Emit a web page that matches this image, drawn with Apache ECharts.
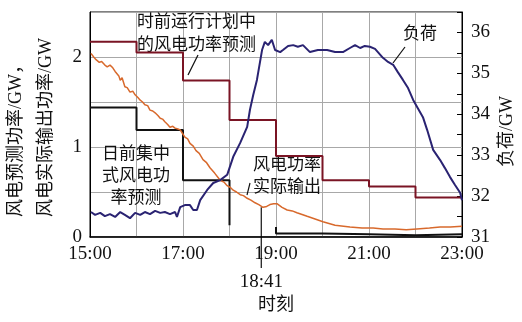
<!DOCTYPE html>
<html>
<head>
<meta charset="utf-8">
<script src="https://cdn.jsdelivr.net/npm/echarts@6/dist/echarts.min.js"></script>
<style>
  html, body { margin: 0; padding: 0; background: #fff; }
  #main { width: 522px; height: 322px; }
</style>
</head>
<body>
<div id="main"></div>
<script>
// 时前运行计划中的风电功率预测 (每小时一档)
const planHours = [15, 16, 17, 18, 19, 20, 21, 22, 23];
const planForecast = [2.17, 2.05, 1.74, 1.30, 0.90, 0.63, 0.56, 0.44, 0.44];

// 日前集中式风电功率预测 (折线点, null 为断开)
const dayAheadTimes = [15, 16, 16, 17, 17, 18, 18, 18.5, 19, 19, 20, 20, 21, 21, 22, 22, 23];
const dayAheadValues = [1.44, 1.44, 1.19, 1.19, 0.63, 0.63, 0.13, null, 0.11, 0.04, 0.04, 0.03, 0.03, 0.02, 0.02, 0.03, 0.03];

// 风电功率实际输出
const actualTimes = [15.02, 15.08, 15.13, 15.2, 15.25, 15.32, 15.37, 15.43, 15.49, 15.54, 15.58, 15.62, 15.65, 15.69,
  15.75, 15.8, 15.86, 15.92, 15.97, 16.03, 16.08, 16.13, 16.18, 16.24, 16.29, 16.35, 16.4, 16.46, 16.51, 16.56,
  16.61, 16.67, 16.72, 16.78, 16.83, 16.89, 16.94, 16.99, 17.04, 17.1, 17.15, 17.22, 17.28, 17.35, 17.43, 17.5,
  17.58, 17.68, 17.8, 17.88, 17.95, 18.02, 18.08, 18.15, 18.23, 18.3, 18.38, 18.46, 18.55, 18.63,
  18.72, 18.8, 18.87, 18.95, 19.02, 19.13, 19.24, 19.35, 19.45, 19.56, 19.67, 19.84, 20.01, 20.27, 20.59, 20.85,
  21.09, 21.3, 21.56, 21.8, 22.03, 22.3, 22.53, 22.75, 23.0];
const actualValues = [2.04, 2.0, 1.97, 1.94, 1.95, 1.91, 1.89, 1.91, 1.88, 1.84, 1.82, 1.79, 1.74, 1.77,
  1.67, 1.66, 1.61, 1.62, 1.58, 1.55, 1.52, 1.5, 1.47, 1.46, 1.41, 1.4, 1.38, 1.35, 1.32, 1.31,
  1.28, 1.25, 1.22, 1.23, 1.21, 1.2, 1.19, 1.15, 1.11, 1.09, 1.04, 1.01, 0.96, 0.93, 0.86, 0.83,
  0.77, 0.71, 0.63, 0.61, 0.57, 0.55, 0.52, 0.5, 0.47, 0.46, 0.43, 0.41, 0.38, 0.36,
  0.33, 0.34, 0.36, 0.37, 0.37, 0.33, 0.30, 0.29, 0.27, 0.25, 0.23, 0.20, 0.17, 0.13, 0.11, 0.1,
  0.10, 0.09, 0.09, 0.08, 0.09, 0.1, 0.11, 0.11, 0.12];

// 负荷 (右轴)
const loadTimes = [15.02, 15.11, 15.22, 15.32, 15.43, 15.54, 15.65, 15.75, 15.86, 15.97, 16.08, 16.18, 16.29, 16.4,
  16.51, 16.61, 16.72, 16.83, 16.87, 16.94, 17.04, 17.15, 17.22, 17.3, 17.37, 17.52, 17.65, 17.8, 17.95, 18.08,
  18.23, 18.38, 18.44, 18.51, 18.59, 18.7, 18.76, 18.83, 18.91, 18.98, 19.09, 19.15, 19.26, 19.37, 19.47, 19.58,
  19.73, 19.9, 20.1, 20.27, 20.44, 20.59, 20.7, 20.81, 20.91, 21.02, 21.13, 21.17, 21.3, 21.41, 21.52, 21.62,
  21.73, 21.84, 21.95, 22.05, 22.16, 22.25, 22.38, 22.53, 22.63, 22.74, 22.85, 22.96, 23.0];
const loadValues = [31.61, 31.54, 31.59, 31.51, 31.56, 31.49, 31.61, 31.54, 31.46, 31.59, 31.54, 31.61, 31.56, 31.64,
  31.59, 31.61, 31.56, 31.61, 31.49, 31.73, 31.78, 31.78, 31.66, 31.66, 31.9, 32.15, 32.32, 32.39, 32.52, 32.96,
  33.3, 33.69, 34.11, 34.47, 34.84, 35.57, 35.77, 35.69, 35.82, 35.57, 35.52, 35.57, 35.67, 35.69, 35.65, 35.69,
  35.52, 35.57, 35.57, 35.52, 35.52, 35.62, 35.69, 35.62, 35.67, 35.65, 35.6, 35.57, 35.38, 35.28, 35.21, 35.03,
  34.84, 34.64, 34.35, 34.15, 33.93, 33.62, 33.13, 32.88, 32.69, 32.47, 32.27, 32.08, 31.9];

const markTime = 18 + 41 / 60;
const markValue = 0.33;

function zip(xs, ys) {
  return xs.map((x, i) => [x, ys[i]]);
}

const FONT = 'Liberation Serif, Noto Sans CJK SC';
const chart = echarts.init(document.getElementById('main'));

const option = {
  animation: false,
  grid: {
    left: 90, right: 60, top: 12, bottom: 85,
    show: true, borderColor: '#000', borderWidth: 1
  },
  xAxis: {
    type: 'value',
    min: 15, max: 23, interval: 1,
    axisLine: { lineStyle: { color: '#000', width: 1.5 } },
    axisTick: { show: false },
    axisLabel: {
      color: '#111', fontFamily: FONT, fontSize: 19, margin: 8,
      formatter: v => (v % 2 === 1 ? v + ':00' : '')
    },
    splitLine: { show: true, lineStyle: { color: '#a8a8a8', width: 1 } }
  },
  yAxis: [
    {
      type: 'value',
      min: 0, max: 2.5, interval: 0.5,
      axisLine: { show: true, lineStyle: { color: '#000' } },
      axisTick: { show: false },
      axisLabel: {
        color: '#111', fontFamily: FONT, fontSize: 19, margin: 8,
        formatter: v => (Number.isInteger(v) ? String(v) : '')
      },
      splitLine: { show: true, lineStyle: { color: '#a8a8a8', width: 1 } }
    },
    {
      type: 'value',
      position: 'right',
      min: 31, max: 36.5, interval: 0.5,
      axisLine: { show: true, lineStyle: { color: '#000' } },
      axisTick: { show: true, inside: true, length: 5, lineStyle: { color: '#000' } },
      axisLabel: {
        color: '#111', fontFamily: FONT, fontSize: 19, margin: 9,
        formatter: v => (Number.isInteger(v) ? String(v) : '')
      },
      splitLine: { show: false }
    }
  ],
  series: [
    {
      name: '日前集中式风电功率预测',
      type: 'line',
      data: zip(dayAheadTimes, dayAheadValues),
      showSymbol: false,
      connectNulls: false,
      lineStyle: { color: '#111', width: 2 }
    },
    {
      name: '时前运行计划中的风电功率预测',
      type: 'line',
      step: 'end',
      data: zip(planHours, planForecast),
      showSymbol: false,
      lineStyle: { color: '#7a1424', width: 2 }
    },
    {
      name: '风电功率实际输出',
      type: 'line',
      data: zip(actualTimes, actualValues),
      showSymbol: false,
      lineStyle: { color: '#d8692c', width: 1.5 }
    },
    {
      name: '负荷',
      type: 'line',
      yAxisIndex: 1,
      data: zip(loadTimes, loadValues),
      showSymbol: false,
      lineStyle: { color: '#2a2372', width: 2 }
    }
  ]
};
chart.setOption(option);

// 标注 (18:41 竖线按坐标换算位置)
const mx = chart.convertToPixel({ xAxisIndex: 0 }, markTime);
const my = chart.convertToPixel({ yAxisIndex: 0 }, markValue);
const txt = (text, x, y, extra, rot) => ({
  type: 'text', x: x, y: y, rotation: rot || 0, silent: true,
  style: Object.assign({ text: text, fill: '#111', font: '17px ' + FONT, lineHeight: 23 }, extra || {})
});
const seg = (x1, y1, x2, y2) => ({
  type: 'line', silent: true,
  shape: { x1: x1, y1: y1, x2: x2, y2: y2 },
  style: { stroke: '#111', lineWidth: 1.2 }
});

chart.setOption({
  graphic: [
    txt('时前运行计划中\n的风电功率预测', 137, 11),
    seg(198, 55, 188, 75),
    txt('负荷', 403, 23),
    seg(405, 47, 393, 63),
    txt('日前集中\n式风电功\n率预测', 136, 144, { align: 'center', lineHeight: 22 }),
    txt('风电功率\n实际输出', 253, 155, { lineHeight: 22 }),
    seg(250, 183, 247, 195),
    seg(mx, my, mx, 268),
    txt('18:41', mx, 282, { align: 'center', verticalAlign: 'middle', font: '19px ' + FONT }),
    txt('时刻', 276, 305, { align: 'center', verticalAlign: 'middle', font: '18px ' + FONT }),
    txt('风电预测功率/GW，\n风电实际输出功率/GW', 31, 217, {
      align: 'left', verticalAlign: 'middle', lineHeight: 30, font: '18px ' + FONT
    }, Math.PI / 2),
    txt('负荷/GW', 507, 167, { align: 'left', verticalAlign: 'middle', font: '18px ' + FONT }, Math.PI / 2)
  ]
});
</script>
</body>
</html>
